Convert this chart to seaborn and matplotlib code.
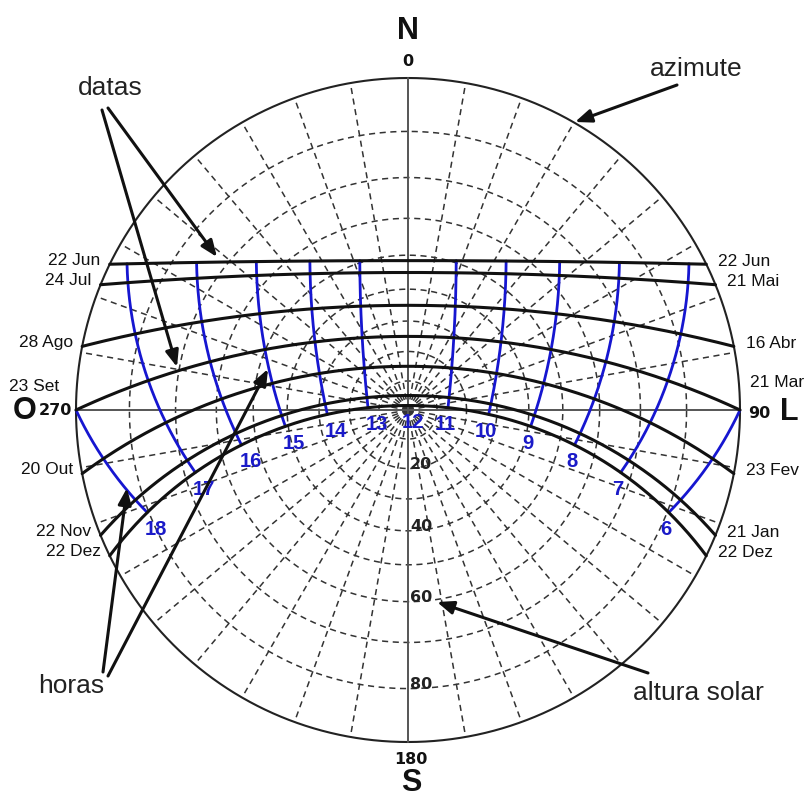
import numpy as np
import pandas as pd
import matplotlib
matplotlib.use("Agg")
import matplotlib.pyplot as plt
import seaborn as sns

# --- site and sun-path data -------------------------------------------------
latitude = -25.0                                   # degrees (south)
declinations = [23.45, 20.0, 10.0, 0.0, -10.0, -20.0, -23.45]
labels_west = ["22 Jun", "24 Jul", "28 Ago", "23 Set", "20 Out", "22 Nov", "22 Dez"]
labels_east = ["22 Jun", "21 Mai", "16 Abr", "21 Mar", "23 Fev", "21 Jan", "22 Dez"]
hours = [6, 7, 8, 9, 10, 11, 12, 13, 14, 15, 16, 17, 18]
zenith_rings = [10, 20, 30, 40, 50, 60, 70, 80]
ring_labels = [20, 40, 60, 80]
azimuth_step = 10

# canvas geometry (pixels): diagram centre and horizon radius
W, H = 809, 800
CX, CY, R = 408, 410, 332


def pix(x, y):
    """Pixel position (origin top-left) -> diagram units."""
    return (x - CX) / R, (CY - y) / R


def project(dec, ha):
    """Stereographic projection of the sun for declination / hour angle (deg)."""
    phi = np.radians(latitude)
    d = np.radians(dec)
    h = np.radians(ha)
    e = -np.cos(d) * np.sin(h)
    n = np.cos(phi) * np.sin(d) - np.sin(phi) * np.cos(d) * np.cos(h)
    u = np.sin(phi) * np.sin(d) + np.cos(phi) * np.cos(d) * np.cos(h)
    return e / (1 + u), n / (1 + u), u


sns.set_theme(style="white")
plt.rcParams["font.family"] = ["Liberation Sans", "DejaVu Sans"]

fig = plt.figure(figsize=(W / 100, H / 100), dpi=100)
ax = fig.add_axes([0, 0, 1, 1])
ax.set_xlim(pix(0, 0)[0], pix(W, 0)[0])
ax.set_ylim(pix(0, H)[1], pix(0, 0)[1])
ax.set_aspect("equal")
ax.axis("off")

grid_kw = dict(color="#333333", lw=1.1, ls=(0, (4, 3)), zorder=1)

# zenith-angle rings
t = np.linspace(0, 2 * np.pi, 721)
for z in zenith_rings:
    r = np.tan(np.radians(z) / 2)
    ax.plot(r * np.cos(t), r * np.sin(t), **grid_kw)

# azimuth spokes
rr = np.array([0.0, 1.0])
for az in range(0, 360, azimuth_step):
    if az % 90 == 0:
        continue
    a = np.radians(az)
    ax.plot(rr * np.sin(a), rr * np.cos(a), **grid_kw)

# horizon and cardinal axes
ax.plot(np.cos(t), np.sin(t), color="#222222", lw=1.5, zorder=2)
ax.plot([-1, 1], [0, 0], color="#555555", lw=1.4, zorder=2)
ax.plot([0, 0], [-1, 1], color="#555555", lw=1.4, zorder=2)

# hour lines (solar time), between the two solstices, above the horizon
rows = []
for hr in hours:
    ha = 15.0 * (hr - 12)
    dd = np.linspace(max(declinations), min(declinations), 470)
    x, y, u = project(dd, ha)
    keep = u >= -1e-9
    for xi, yi in zip(x[keep], y[keep]):
        rows.append((hr, xi, yi))
hour_df = pd.DataFrame(rows, columns=["hour", "x", "y"])
sns.lineplot(data=hour_df[hour_df["hour"] != 12], x="x", y="y", units="hour",
             estimator=None, sort=False, color="#1616d0", lw=2.0,
             legend=False, ax=ax, zorder=3)

# day paths
rows = []
for dec in declinations:
    h0 = np.degrees(np.arccos(-np.tan(np.radians(latitude)) * np.tan(np.radians(dec))))
    ha = np.linspace(-h0, h0, 400)
    x, y, _ = project(dec, ha)
    for xi, yi in zip(x, y):
        rows.append((dec, xi, yi))
day_df = pd.DataFrame(rows, columns=["dec", "x", "y"])
sns.lineplot(data=day_df, x="x", y="y", units="dec", estimator=None, sort=False,
             color="#111111", lw=2.2, legend=False, ax=ax, zorder=4)

# date labels at both ends of each path
date_font = dict(fontsize=12.5, color="#111111", va="center", zorder=6)
for dec, lw_, le_ in zip(declinations, labels_west, labels_east):
    h0 = np.degrees(np.arccos(-np.tan(np.radians(latitude)) * np.tan(np.radians(dec))))
    xw, yw, _ = project(dec, h0)
    xe, ye, _ = project(dec, -h0)
    if dec == 0:
        ax.text(xw - 17 / R, yw + 23 / R, lw_, ha="right", **date_font)
        ax.text(xe + 10 / R, ye + 27 / R, le_, ha="left", **date_font)
    else:
        ax.text(xw - 9 / R, yw + 4 / R, lw_, ha="right", **date_font)
        ax.text(xe + 12 / R, ye + 3 / R, le_, ha="left", **date_font)

# hour labels beneath the December solstice path
for hr in hours:
    ha = 15.0 * (hr - 12)
    x, y, _ = project(min(declinations), ha)
    dx = 9 if hr > 12 else (-3 if hr < 12 else 5)
    ax.text(x + dx / R, y - 17 / R, str(hr), ha="center", va="center",
            fontsize=14.5, fontweight="bold", color="#1a1ac8", zorder=6)

# zenith-angle labels along the south axis
for z in ring_labels:
    r = np.tan(np.radians(z) / 2)
    ax.text(13 / R, -r + 4 / R, str(z), ha="center", va="center",
            fontsize=11.5, fontweight="bold", color="#222222",
            family="DejaVu Sans", zorder=6)

# cardinal points
big = dict(fontsize=22, fontweight="bold", color="#111111", ha="center", va="center")
small = dict(fontsize=11.5, fontweight="bold", color="#111111", ha="center",
             va="center", family="DejaVu Sans")
ax.text(*pix(408, 31), "N", **big)
ax.text(*pix(408, 62), "0", **small)
ax.text(*pix(411, 783), "S", **big)
ax.text(*pix(411, 760), "180", **small)
ax.text(*pix(25, 411), "O", **big)
ax.text(*pix(55, 411), "270", **small)
ax.text(*pix(759, 414), "90", **small)
ax.text(*pix(789, 412), "L", **big)

# callouts
note = dict(fontsize=19, color="#222222", ha="center", va="center")
ax.text(*pix(110, 88), "datas", **note)
ax.text(*pix(696, 69), "azimute", **note)
ax.text(*pix(698, 693), "altura solar", **note)
ax.text(*pix(71, 686), "horas", **note)

arrow_kw = dict(arrowstyle="-|>,head_length=0.55,head_width=0.22", color="#111111",
                lw=2.2, shrinkA=0, shrinkB=0, mutation_scale=18)
callouts = [((217, 257), (108, 108)),
            ((177, 367), (102, 110)),
            ((575, 122), (677, 85)),
            ((437, 602), (648, 673)),
            ((127, 488), (103, 672)),
            ((268, 369), (108, 676))]
for tip, tail in callouts:
    ax.annotate("", xy=pix(*tip), xytext=pix(*tail), arrowprops=arrow_kw, zorder=7)

fig.savefig("out.png", dpi=100, facecolor="white")
